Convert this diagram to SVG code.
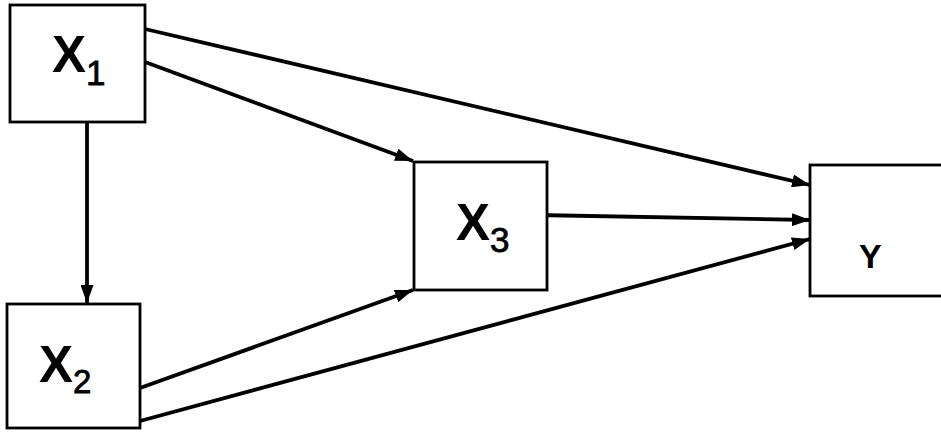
<svg xmlns="http://www.w3.org/2000/svg" width="941" height="433" viewBox="0 0 941 433">
<defs>
<marker id="ah" viewBox="0 0 18 13" refX="18" refY="6.5" markerWidth="18" markerHeight="13" markerUnits="userSpaceOnUse" orient="auto">
<path d="M0,0 L18,6.5 L0,13 Z" fill="#000"/>
</marker>
<style>
.box{fill:#fff;stroke:#000;stroke-width:2.8}
.lbl{font-family:"Liberation Sans",Arial,sans-serif;fill:#000;font-weight:bold}
.sub{font-weight:normal;stroke:#000;stroke-width:0.8}
.edge{stroke:#000;stroke-width:3.8;fill:none;marker-end:url(#ah)}
</style>
</defs>
<rect width="941" height="433" fill="#fff"/>
<g id="connectors">
<line class="edge" x1="145" y1="29" x2="810" y2="185"/>
<line class="edge" x1="145" y1="62" x2="413" y2="161"/>
<line class="edge" x1="87" y1="122" x2="87" y2="303"/>
<line class="edge" x1="535" y1="215" x2="810" y2="220"/>
<line class="edge" x1="140" y1="388" x2="413" y2="290"/>
<line class="edge" x1="140" y1="421" x2="810" y2="239"/>
</g>
<g id="X1">
<rect class="box" x="10" y="5" width="135" height="117"/>
<text class="lbl" x="52" y="72" font-size="51">X<tspan class="sub" font-size="35" dy="13">1</tspan></text>
</g>
<g id="X2">
<rect class="box" x="7" y="304" width="133" height="124"/>
<text class="lbl" x="39" y="382" font-size="51">X<tspan class="sub" font-size="33" dy="11">2</tspan></text>
</g>
<g id="X3">
<rect class="box" x="414" y="162" width="133" height="128"/>
<text class="lbl" x="456" y="240" font-size="51">X<tspan class="sub" font-size="35" dy="12">3</tspan></text>
</g>
<g id="Y">
<rect class="box" x="810" y="165" width="140" height="131"/>
<text class="lbl" x="859" y="268" font-size="34">Y</text>
</g>
</svg>
